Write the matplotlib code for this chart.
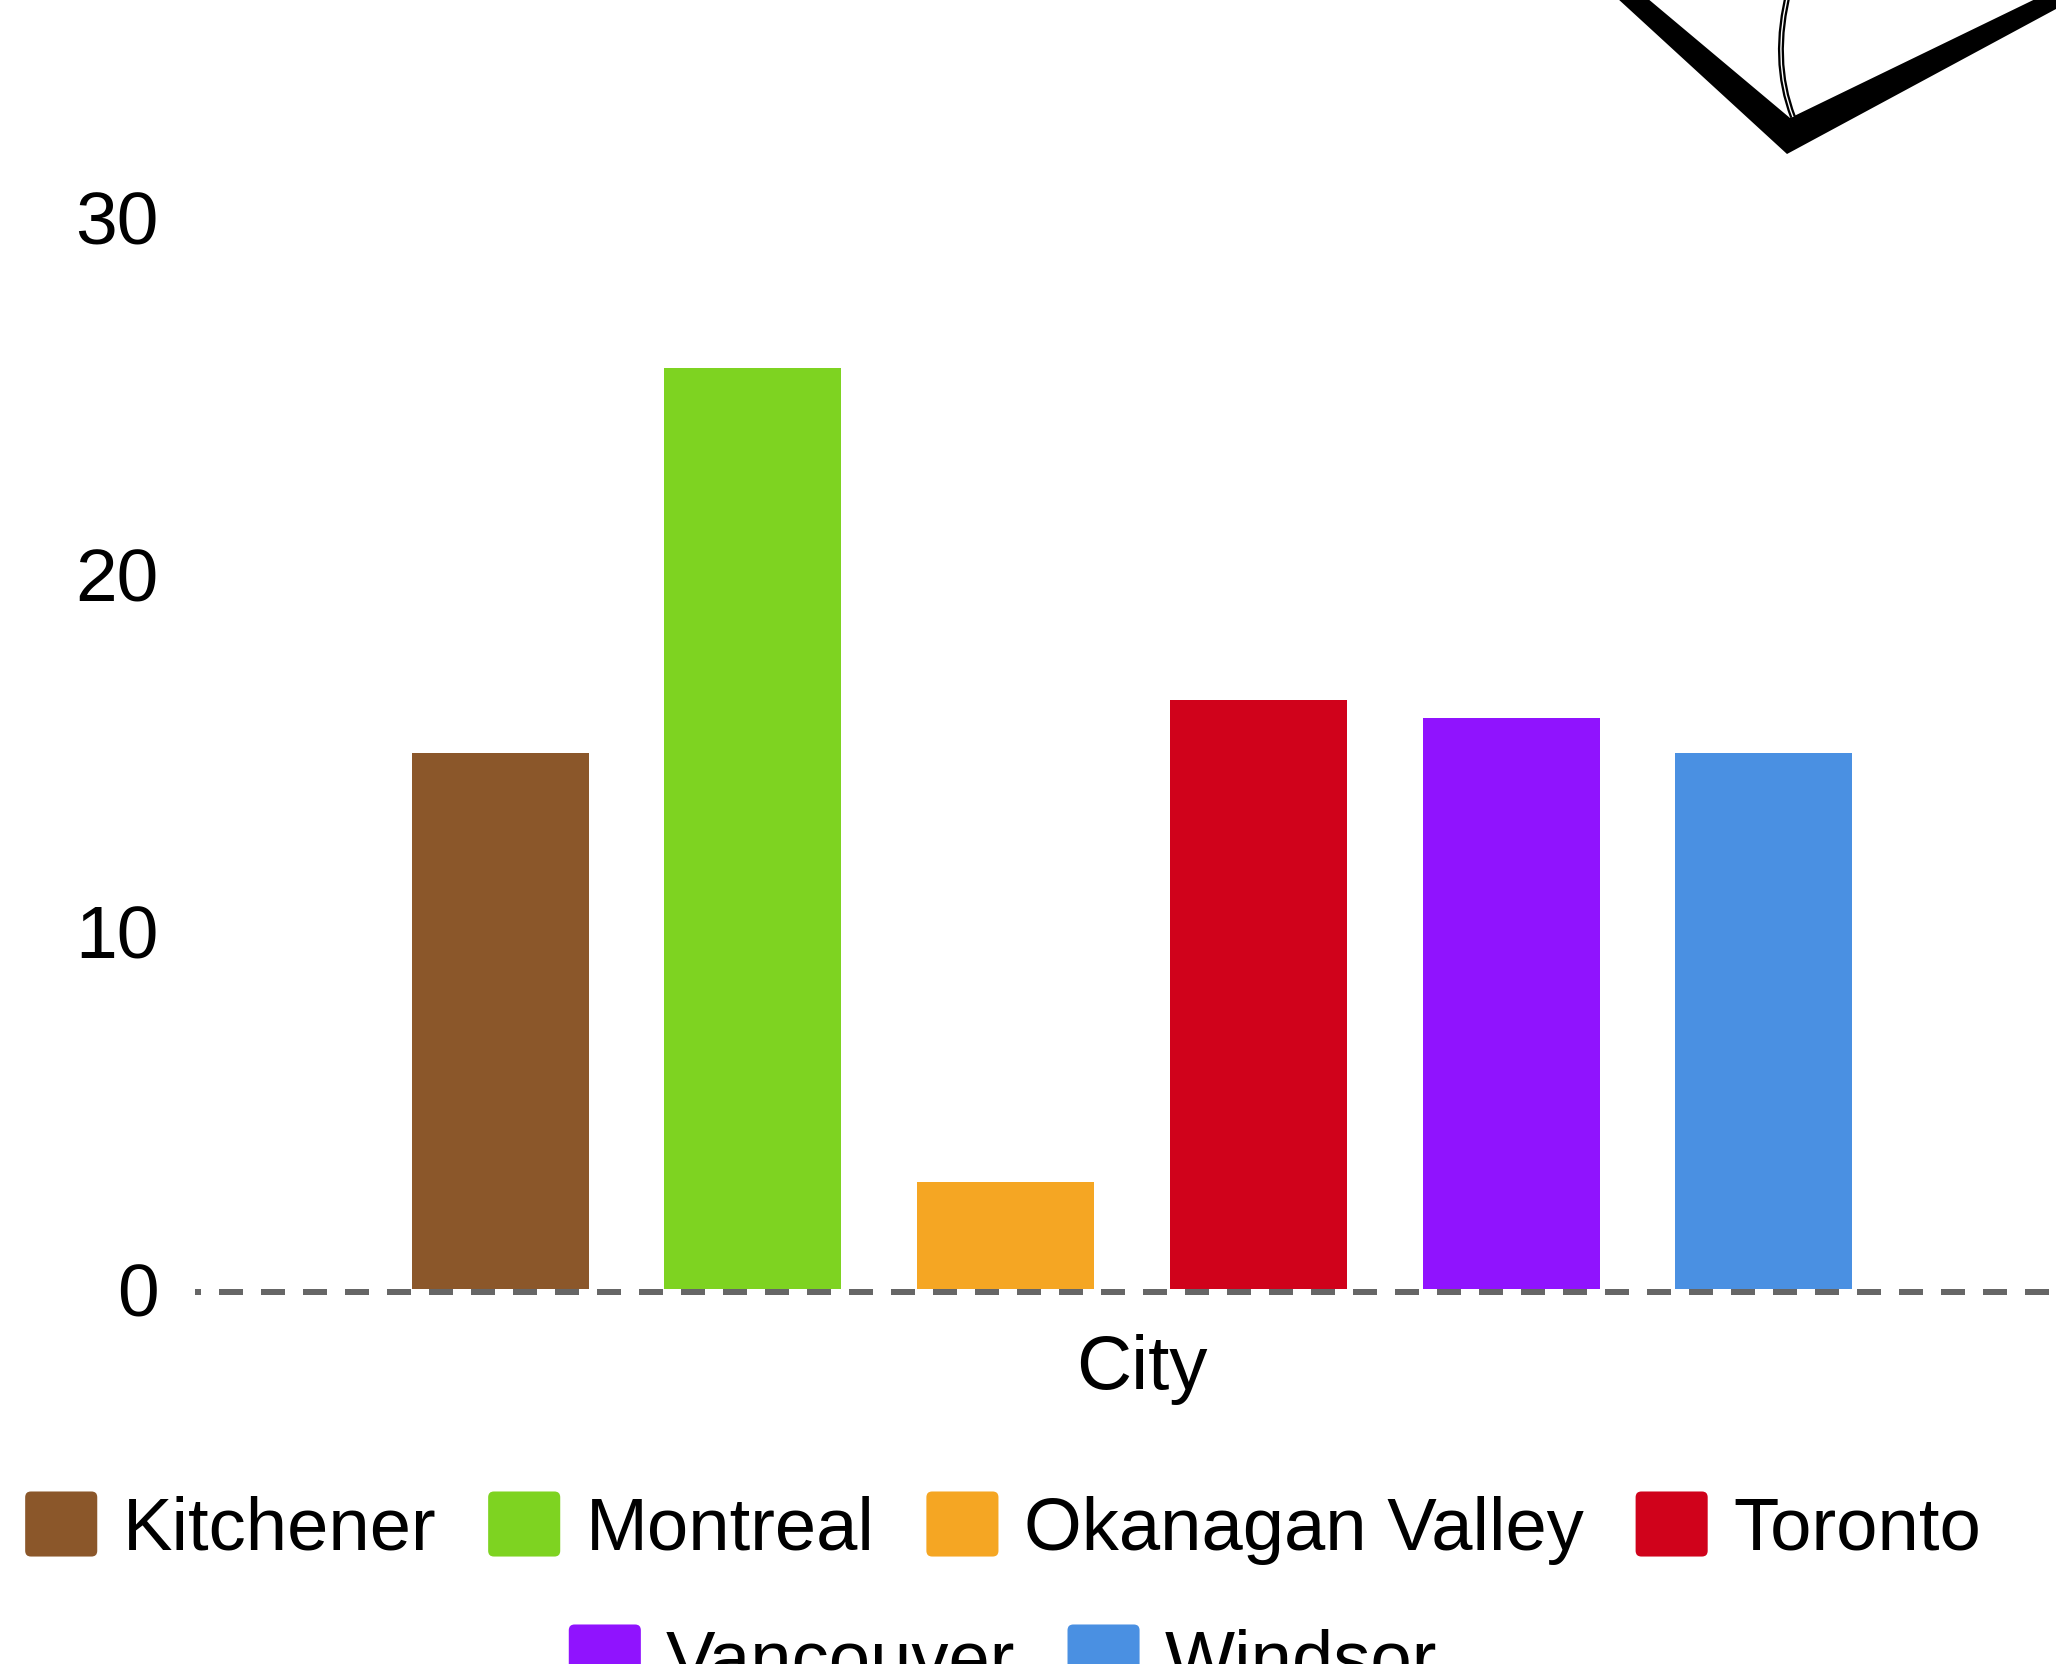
import matplotlib
matplotlib.use("Agg")
import matplotlib.pyplot as plt
from matplotlib.patches import Patch, FancyBboxPatch, Polygon, PathPatch
from matplotlib.legend_handler import HandlerPatch
from matplotlib.path import Path

plt.rcParams['font.family'] = ['Liberation Sans', 'DejaVu Sans']

cities = ['Kitchener', 'Montreal', 'Okanagan Valley', 'Toronto', 'Vancouver', 'Windsor']
values = [15, 25.8, 3, 16.5, 16, 15]
colors = ['#8B572A', '#7ED321', '#F5A623', '#D0021B', '#9013FE', '#4A90E2']
yticks = [0, 10, 20, 30]

W, H = 2065, 1664
fig = plt.figure(figsize=(W / 100, H / 100), dpi=100)


def fx(px):
    return px / W


def fy(py):
    return 1 - py / H


# axes: left 195px, right 2069px, top 0px, bottom 1300px
ax = fig.add_axes([fx(195), fy(1300), fx(2069 - 195), 1300 / H])
xs = list(range(len(cities)))
ax.bar(xs, values, width=0.7, color=colors, zorder=2)
ax.set_xlim(-1.207, 6.207)
ax.set_ylim(-0.308, 36.106)
ax.axhline(-0.084, color='#666666', lw=4.32, linestyle=(3, (4, 3)), zorder=3)

for s in ax.spines.values():
    s.set_visible(False)
ax.set_xticks([])
ax.set_yticks(yticks)
ax.tick_params(axis='y', length=0, pad=26, labelsize=54)

fig.text(fx(1142), fy(1389), 'City', ha='center', va='baseline', fontsize=55)


# legend with rounded squares, two centred rows
def rounded(legend, orig_handle, xdescent, ydescent, width, height, fontsize):
    r = 0.08 * width
    return FancyBboxPatch((-xdescent, -ydescent), width, height,
                          boxstyle=f"round,pad=0,rounding_size={r}")


fs = 53.5
handles = [Patch(facecolor=c, edgecolor='none', label=n) for c, n in zip(colors, cities)]
opts = dict(loc='center', frameon=False, fontsize=fs, handlelength=0.97, handleheight=0.97,
            handletextpad=0.34, columnspacing=0.7, borderpad=0, borderaxespad=0,
            handler_map={Patch: HandlerPatch(patch_func=rounded)})
leg1 = fig.legend(handles=handles[:4], ncol=4, bbox_to_anchor=(fx(1003), fy(1528)), **opts)
leg2 = fig.legend(handles=handles[4:], ncol=2, bbox_to_anchor=(fx(1003), fy(1661)), **opts)

# the big arrow head sticking in at the top right
head = [(1617, -2), (1787, 154), (2056, 9), (2056, -11), (1790, 118), (1647, -2)]
fig.patches.append(Polygon([(fx(x), fy(y)) for x, y in head], closed=True,
                           transform=fig.transFigure, facecolor='black',
                           edgecolor='none', figure=fig))
shaft = Path([(fx(1789), fy(-10)), (fx(1771), fy(60)), (fx(1793), fy(117))],
             [Path.MOVETO, Path.CURVE3, Path.CURVE3])
fig.patches.append(PathPatch(shaft, transform=fig.transFigure, fill=False,
                             edgecolor='black', lw=4.3, figure=fig))
fig.patches.append(PathPatch(shaft, transform=fig.transFigure, fill=False,
                             edgecolor='white', lw=1.0, figure=fig))

fig.savefig('out.png', dpi=100)
